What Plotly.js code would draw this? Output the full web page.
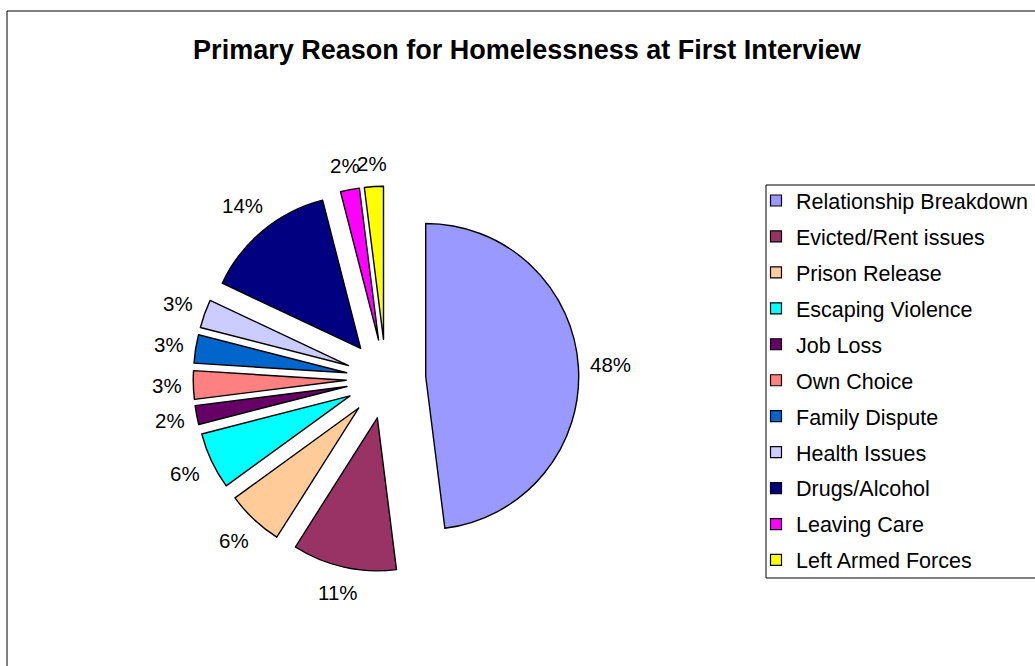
<!DOCTYPE html>
<html>
<head>
<meta charset="utf-8">
<script src="https://cdn.plot.ly/plotly-3.0.1.min.js"></script>
<style>html,body{margin:0;padding:0;background:#fff;}#chart{width:1035px;height:666px;}</style>
</head>
<body>
<div id="chart"></div>
<script>
var categories = ["Relationship Breakdown","Evicted/Rent issues","Prison Release","Escaping Violence","Job Loss","Own Choice","Family Dispute","Health Issues","Drugs/Alcohol","Leaving Care","Left Armed Forces"];
var shares = [48, 11, 6, 6, 2, 3, 3, 3, 14, 2, 2];
var colors = ["#9999FF","#993366","#FFCC99","#00FFFF","#660066","#FF8080","#0066CC","#CCCCFF","#000080","#FF00FF","#FFFF00"];

var W = 1035, H = 666;
var cx = 386, cy = 379, R = 153, pull = 0.26;
var half = R * (1 + pull);
var FONT = 'Liberation Sans, Arial, sans-serif';
var labelSize = 20.5;

var pie = {
  type: 'pie',
  labels: categories,
  values: shares,
  sort: false,
  direction: 'clockwise',
  rotation: 0,
  pull: pull,
  marker: {colors: colors, line: {color: '#000', width: 1.4}},
  textinfo: 'none',
  showlegend: false,
  hoverinfo: 'label+percent',
  domain: {x: [(cx - half) / W, (cx + half) / W], y: [1 - (cy + half) / H, 1 - (cy - half) / H]}
};

var traces = [pie];
categories.forEach(function (c, i) {
  traces.push({
    type: 'scatter', mode: 'markers', x: [null], y: [null], name: c,
    legendgroup: 'g' + i, showlegend: true, hoverinfo: 'skip',
    marker: {symbol: 'square', size: 11, color: colors[i], line: {color: '#000', width: 1.2}}
  });
});

// percentage labels placed just outside each (pulled) slice, at its mid angle
var total = shares.reduce(function (a, b) { return a + b; }, 0);
var cum = 0, gap = 11, hy = 11;
var annotations = shares.map(function (v) {
  var mid = (cum + v / 2) / total * 2 * Math.PI;
  cum += v;
  var s = Math.sin(mid), c = Math.cos(mid);
  var txt = Math.round(v / total * 100) + '%';
  var hx = ((txt.length - 1) * 0.556 + 0.889) * labelSize / 2;
  var D = half + gap + hx * Math.abs(s) + hy * Math.abs(c);
  var px = cx + D * s, py = cy - D * c;
  return {xref: 'paper', yref: 'paper', x: px / W, y: 1 - py / H, text: txt, showarrow: false,
    xanchor: 'center', yanchor: 'middle', font: {family: FONT, size: labelSize, color: '#000'}};
});

var layout = {
  width: W, height: H,
  margin: {l: 0, r: 0, t: 0, b: 0, autoexpand: false},
  paper_bgcolor: '#fff', plot_bgcolor: '#fff',
  title: {text: '<b>Primary Reason for Homelessness at First Interview</b>',
    font: {family: FONT, size: 27, color: '#000'},
    x: 527 / W, xanchor: 'center', y: 1 - 50 / H, yanchor: 'middle', xref: 'paper', yref: 'container'},
  xaxis: {visible: false}, yaxis: {visible: false},
  showlegend: true,
  legend: {x: 756 / W, xanchor: 'left', y: 1 - 180 / H, yanchor: 'top',
    borderwidth: 0, bgcolor: 'rgba(0,0,0,0)',
    traceorder: 'grouped', tracegroupgap: 5,
    font: {family: FONT, size: 21.5, color: '#000'}},
  annotations: annotations,
  shapes: [
    {type: 'rect', xref: 'paper', yref: 'paper', x0: 7 / W, x1: 1.05, y0: -0.05, y1: 1 - 11 / H,
      line: {color: '#000', width: 1}, layer: 'below'},
    {type: 'rect', xref: 'paper', yref: 'paper', x0: 766 / W, x1: 1.05, y0: 1 - 578 / H, y1: 1 - 185 / H,
      line: {color: '#000', width: 1}, layer: 'below'}
  ]
};

Plotly.newPlot('chart', traces, layout, {displayModeBar: false, staticPlot: true});
</script>
</body>
</html>
